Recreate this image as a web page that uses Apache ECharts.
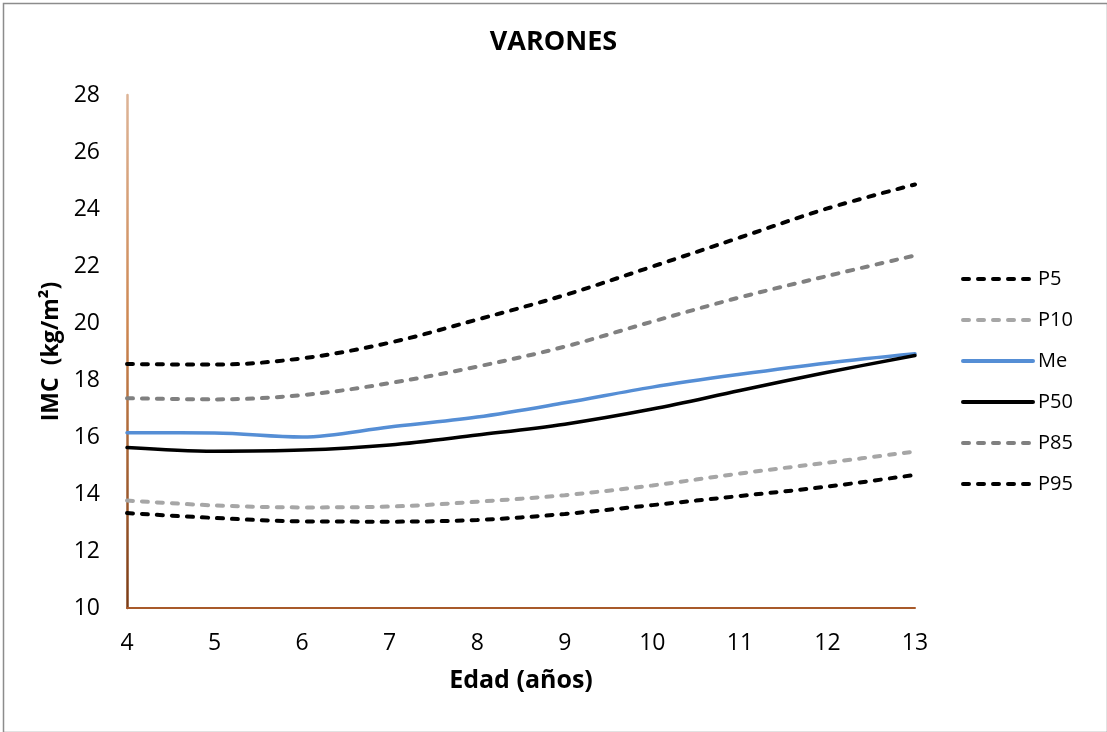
<!DOCTYPE html>
<html>
<head>
<meta charset="utf-8">
<script src="https://cdn.jsdelivr.net/npm/echarts@6/dist/echarts.min.js"></script>
<style>html,body{margin:0;padding:0;background:#fff}#c{width:1107px;height:732px}</style>
</head>
<body>
<div id="c"></div>
<script>
var ages = [4, 5, 6, 7, 8, 9, 10, 11, 12, 13];
var P5  = [13.33, 13.16, 13.04, 13.03, 13.09, 13.30, 13.61, 13.93, 14.26, 14.67];
var P10 = [13.77, 13.60, 13.53, 13.56, 13.73, 13.96, 14.30, 14.72, 15.10, 15.49];
var Me  = [16.15, 16.14, 16.00, 16.35, 16.70, 17.20, 17.75, 18.20, 18.60, 18.92];
var P50 = [15.63, 15.50, 15.54, 15.72, 16.07, 16.45, 16.98, 17.63, 18.27, 18.86];
var P85 = [17.36, 17.32, 17.47, 17.89, 18.47, 19.17, 20.05, 20.90, 21.65, 22.37];
var P95 = [18.56, 18.54, 18.76, 19.31, 20.12, 20.98, 21.98, 23.00, 24.02, 24.86];
var yTicks = [10, 12, 14, 16, 18, 20, 22, 24, 26, 28];
var xTicks = [4, 5, 6, 7, 8, 9, 10, 11, 12, 13];

function pairs(v) { return ages.map(function (a, i) { return [a, v[i]]; }); }
var FONT = '"Open Sans", "Liberation Sans", sans-serif';

function mk(name, vals, color, dashed, z) {
  return {
    name: name, type: 'line', data: pairs(vals), smooth: 0.35, showSymbol: false, symbol: 'none', z: z,
    lineStyle: dashed ? { color: color, width: 4, type: [6, 9], cap: 'round' }
                      : { color: color, width: 3.5, cap: 'round' },
    itemStyle: { color: color }
  };
}

var chart = echarts.init(document.getElementById('c'), null, { renderer: 'canvas' });
chart.setOption({
  animation: false,
  backgroundColor: '#fff',
  title: {
    text: 'VARONES', left: 'center', top: 24,
    textStyle: { fontFamily: FONT, fontSize: 27, fontWeight: 'bold', color: '#000' }
  },
  legend: {
    orient: 'vertical', left: 956, top: 264, itemWidth: 70, itemHeight: 14, itemGap: 21,
    data: ['P5', 'P10', 'Me', 'P50', 'P85', 'P95'],
    itemStyle: { opacity: 0 },
    lineStyle: { width: 4 },
    textStyle: { fontFamily: FONT, fontSize: 20, color: '#000' }
  },
  grid: { left: 127, right: 192, top: 95, bottom: 124, containLabel: false },
  xAxis: {
    type: 'value', min: xTicks[0], max: xTicks[xTicks.length - 1], interval: 1,
    name: 'Edad (años)', nameLocation: 'middle', nameGap: 60,
    nameTextStyle: { fontFamily: FONT, fontSize: 25, fontWeight: 'bold', color: '#000' },
    axisLine: { lineStyle: { color: '#a85a2a', width: 2 } },
    axisTick: { show: false }, splitLine: { show: false },
    axisLabel: { margin: 24, fontFamily: FONT, fontSize: 23, color: '#000' }
  },
  yAxis: {
    type: 'value', min: yTicks[0], max: yTicks[yTicks.length - 1], interval: 2,
    name: 'IMC  (kg/m²)', nameLocation: 'middle', nameGap: 62, nameRotate: 90,
    nameTextStyle: { fontFamily: FONT, fontSize: 23, fontWeight: 'bold', color: '#000' },
    axisLine: { lineStyle: { width: 2.5, color: new echarts.graphic.LinearGradient(0, 0, 0, 1, [
      { offset: 0, color: '#ddb497' }, { offset: 0.45, color: '#cd8650' }, { offset: 1, color: '#7a3a14' }
    ]) } },
    axisTick: { show: false }, splitLine: { show: false },
    axisLabel: { margin: 27, fontFamily: FONT, fontSize: 23, color: '#000' }
  },
  graphic: [{
    type: 'rect', left: 1, top: 1, silent: true, z: -10,
    shape: { width: 1104, height: 729 },
    style: { fill: 'none', stroke: '#8c8c8c', lineWidth: 1.5 }
  }],
  series: [
    mk('P5', P5, '#000000', true, 5),
    mk('P10', P10, '#a6a6a6', true, 3),
    mk('Me', Me, '#558ed5', false, 4),
    mk('P50', P50, '#000000', false, 6),
    mk('P85', P85, '#808080', true, 3),
    mk('P95', P95, '#000000', true, 5)
  ]
});
</script>
</body>
</html>
